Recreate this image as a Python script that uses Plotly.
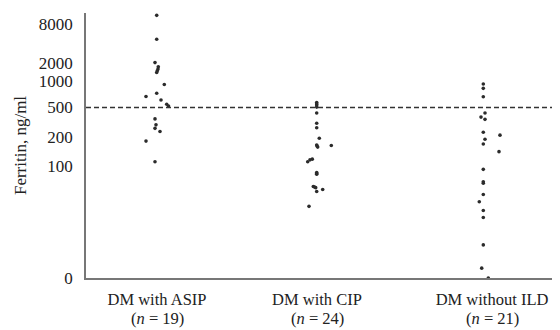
import numpy as np
import plotly.graph_objects as go

# ---- data ----
categories = ["DM with ASIP", "DM with CIP", "DM without ILD"]
n_labels = ["19", "24", "21"]

asip_values = [11000, 4700, 2050, 1750, 1500, 1400, 1600, 920, 730, 670, 610,
               545, 520, 350, 290, 260, 235, 180, 110]
asip_jitter = [0.7, 0.7, -1, 2.3, 1.3, 0.7, 2, 8.3, 0.7, -10, 5, 10.7, 12.5,
               -1, 0, -1, 4, -10, -1]

cip_values = [570, 535, 505, 550, 420, 305, 265, 193, 164, 156, 160, 162, 117,
              115, 110, 75, 70, 72, 42, 40, 41, 34, 37, 18]
cip_jitter = [0.7, 0.7, 0.7, 0.7, 0.7, 0.7, 0.7, 3.3, 0.7, 1.7, 1, 15.3, -3.7,
              -6, -8.3, 0.7, 0.7, 0.7, -2.7, -0.3, -1.5, 0.7, 6.7, -7]

noild_values = [930, 830, 665, 420, 370, 345, 230, 188, 168, 210, 140, 86, 51,
                48, 30, 22, 15, 11, 2.9, 0.5, 0]
noild_jitter = [0.3, 0.3, 0.3, 2, -2, 2, 0.3, 2, 0.3, 17, 16, 0.3, 0.3, 0.3,
                0.3, -3.7, 0.3, 0.3, 0.3, -1.3, 5.3]

tick_values = [0, 100, 200, 500, 1000, 2000, 8000]
tick_labels = ["0", "100", "200", "500", "1000", "2000", "8000"]
cutoff = 500

# ---- custom (hand-drawn, log-like) axis scale of the original figure ----
anchor_values = np.array([0, 100, 200, 500, 1000, 2000, 8000], dtype=float)
anchor_pos = np.array([0, 112.3, 141.3, 170.5, 196.7, 214.7, 253.7])
anchor_L = np.log10(anchor_values + 1)


def scale(v):
    L = np.log10(np.asarray(v, dtype=float) + 1)
    out = np.interp(L, anchor_L, anchor_pos)
    slope = (anchor_pos[-1] - anchor_pos[-2]) / (anchor_L[-1] - anchor_L[-2])
    return np.where(L > anchor_L[-1], anchor_pos[-1] + (L - anchor_L[-1]) * slope, out)


group_pos = [156, 316, 483]
label_pos = [157, 317, 492]

font_family = "Liberation Serif, Times New Roman, serif"
fig = go.Figure()
for gp, vals, jit in zip(group_pos, [asip_values, cip_values, noild_values],
                         [asip_jitter, cip_jitter, noild_jitter]):
    fig.add_trace(go.Scatter(
        x=[gp + j for j in jit], y=scale(vals), mode="markers",
        marker=dict(size=3.6, color="#2b2b2b"), showlegend=False,
        hoverinfo="skip"))

fig.add_shape(type="line", xref="x", yref="y", x0=86, x1=556,
              y0=float(scale(cutoff)), y1=float(scale(cutoff)),
              line=dict(color="#333333", width=1.3, dash="5px,3px"))

# second line of each category label: "(n = ..)"
for lp, n in zip(label_pos, n_labels):
    fig.add_annotation(x=lp, xref="x", y=-40 / 265, yref="paper",
                       text=f"(<i>n</i> = {n})", showarrow=False,
                       xanchor="center", yanchor="middle",
                       font=dict(family=font_family, size=16.5, color="#222222"))

# the page body adds an 8px offset, so the figure is 8px smaller on each side
fig.update_layout(
    width=552, height=322,
    margin=dict(l=78, r=0, t=5, b=52),
    paper_bgcolor="white", plot_bgcolor="white",
    font=dict(family=font_family, size=17, color="#222222"),
    xaxis=dict(range=[86, 560], showgrid=False, zeroline=False,
               showline=True, linecolor="#777777", linewidth=1.5,
               tickmode="array", tickvals=label_pos, ticktext=categories,
               tickfont=dict(size=16.5),
               ticks="", ticklabelstandoff=5, automargin=False),
    yaxis=dict(range=[0, 265], showgrid=False, zeroline=False,
               showline=True, linecolor="#777777", linewidth=1.5,
               tickmode="array", tickvals=scale(tick_values).tolist(),
               ticktext=tick_labels, ticks="", ticklabelstandoff=8,
               automargin=False,
               title=dict(text="Ferritin, ng/ml", standoff=8,
                          font=dict(size=17))),
)

fig.write_html("out.html")
